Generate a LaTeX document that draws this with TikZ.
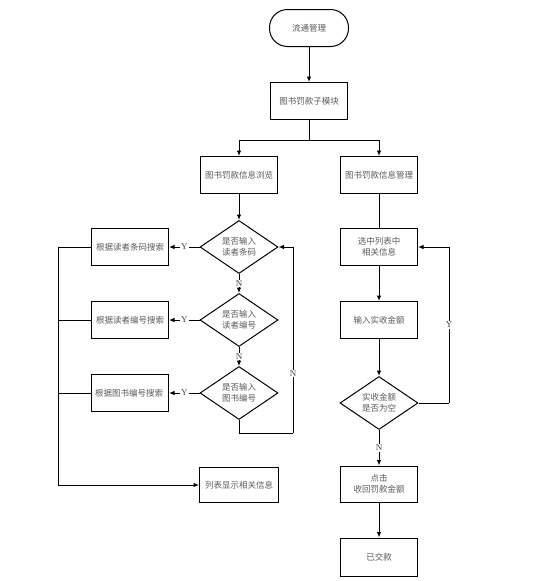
\documentclass[tikz,border=0pt]{standalone}
\usepackage{fontspec}
\setmainfont{Liberation Serif}
\newfontfamily\cjk{Noto Sans CJK SC}
\usepackage{tikz}
\usetikzlibrary{shapes.geometric,arrows.meta}

\begin{document}
\begin{tikzpicture}[x=1pt,y=-1pt,line width=1pt,
    box/.style={draw,rectangle,minimum width=77pt,minimum height=37pt,inner sep=1pt,
      font=\cjk\fontsize{8.5}{11}\selectfont,text=black!65,align=center},
    term/.style={box,rounded corners=18pt,minimum width=79pt},
    ask/.style={draw,diamond,aspect=1.47,minimum width=78pt,minimum height=53pt,inner sep=0pt,
      font=\cjk\fontsize{8.5}{11}\selectfont,text=black!65,align=center},
    arr/.style={-{Latex[length=5.5pt,width=4.5pt]}},
    lab/.style={fill=white,inner sep=1pt,font=\fontsize{9}{10}\selectfont,text=black!70}]
    \useasboundingbox (0,0) rectangle (540,581);
    \node[term] (start) at (309,28) {流通管理};
    \node[box] (sub) at (309,101) {图书罚款子模块};
    \node[box] (browse) at (239,175) {图书罚款信息浏览};
    \node[box] (manage) at (379,175) {图书罚款信息管理};
    \foreach \n/\y/\q/\s in {
     1/247/读者条码/根据读者条码搜索,2/320/读者编号/根据读者编号搜索,3/393/图书编号/根据图书编号搜索
     } {
      \node[ask] (d\n) at (239,\y) {是否输入\\\q};
      \node[box] (s\n) at (130,\y) {\s};
      \draw[arr] (d\n.west) -- node[lab] {Y} (s\n.east);
     }
    \node[box,minimum width=79pt,minimum height=35pt] (list) at (239,485) {列表显示相关信息};
    \node[box] (sel) at (379,247) {选中列表中\\相关信息};
    \node[box] (input) at (379,320) {输入实收金额};
    \node[ask] (empty) at (379,403) {实收金额\\是否为空};
    \node[box,minimum height=36pt] (click) at (379,484) {点击\\收回罚款金额};
    \node[box,minimum height=38pt] (paid) at (379,557) {已交款};
    \coordinate (bus) at (58,247);
    \coordinate (backN) at (293,433);
    \coordinate (backY) at (449,403);

    \draw[arr] (start) -- (sub);
    \draw[arr] (sub.south) -- ++(0,20) -| (browse.north);
    \draw[arr] (sub.south) -- ++(0,20) -| (manage.north);
    \draw[arr] (browse) -- (d1);
    \draw[arr] (d1.south) -- node[lab] {N} (d2.north);
    \draw[arr] (d2.south) -- node[lab] {N} (d3.north);
    \draw (d3.south) |- (backN);
    \draw[arr] (backN) |- node[lab,pos=0.16] {N} (d1.east);
    \draw (s1.west) -- (bus);
    \draw (s2.west) -- (s2.west -| bus);
    \draw (s3.west) -- (s3.west -| bus);
    \draw[arr] (bus) |- (list.west);
    \draw (manage) -- (sel);
    \draw[arr] (sel) -- (input);
    \draw[arr] (input) -- (empty);
    \draw (empty.east) -- (backY);
    \draw[arr] (backY) |- node[lab,pos=0.25] {Y} (sel.east);
    \draw[arr] (empty.south) -- node[lab] {N} (click.north);
    \draw[arr] (click) -- (paid);
   \end{tikzpicture}
\end{document}
